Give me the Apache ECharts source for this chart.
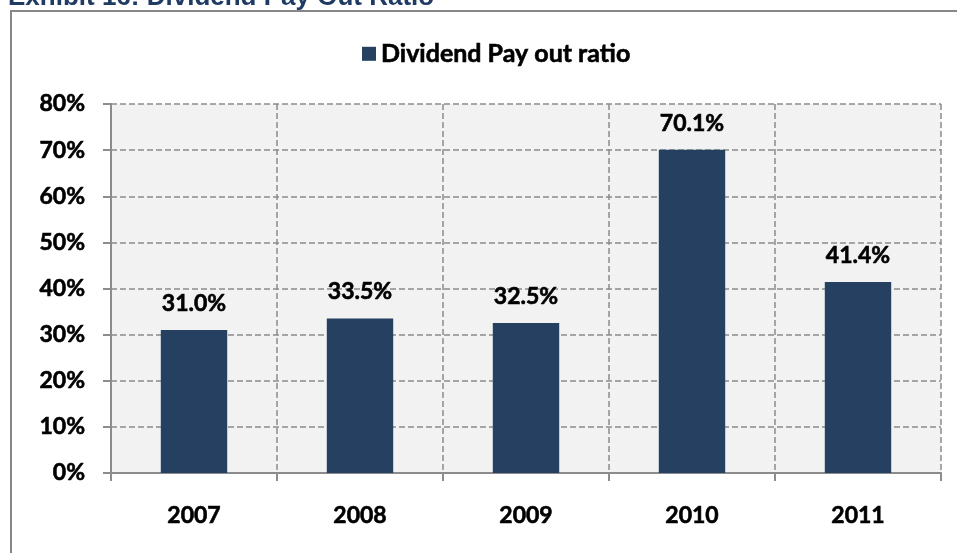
<!DOCTYPE html>
<html>
<head>
<meta charset="utf-8">
<script src="https://cdn.jsdelivr.net/npm/echarts@6/dist/echarts.min.js"></script>
<style>
  html, body { margin: 0; padding: 0; background: #fff; }
  #chart { width: 957px; height: 553px; }
</style>
</head>
<body>
<div id="chart"></div>
<script>
// Dividend pay-out ratio by fiscal year (percent)
const years = ['2007', '2008', '2009', '2010', '2011'];
const payoutRatio = [31.0, 33.5, 32.5, 70.1, 41.4];
const seriesName = 'Dividend Pay out ratio';
const chartTitle = 'Exhibit 16: Dividend Pay Out Ratio';

const FONT = 'Lato';
const navy = '#254061';
const gridGray = '#8c8c8c';
// a hairline outline thickens Lato bold a little
const heavy = { fontFamily: FONT, fontWeight: 'bold', color: '#000',
                textBorderColor: '#000', textBorderWidth: 0.6 };

const chart = echarts.init(document.getElementById('chart'), null, { renderer: 'canvas' });

chart.setOption({
  animation: false,
  backgroundColor: '#ffffff',
  graphic: [
    {
      // heading sits above the frame and runs off the top edge
      type: 'text', x: 8, y: 11, silent: true,
      style: { text: chartTitle, fill: '#1f3a63', font: 'bold 26px Arial',
               verticalAlign: 'bottom' }
    },
    {
      type: 'rect', silent: true, z: -1,
      shape: { x: 11, y: 11, width: 980, height: 600 },
      style: { fill: 'none', stroke: '#878787', lineWidth: 2 }
    }
  ],
  legend: {
    top: 36, left: 357,
    itemWidth: 14, itemHeight: 14, itemGap: 8,
    icon: 'rect',
    textStyle: Object.assign({ fontSize: 25 }, heavy),
    data: [seriesName]
  },
  grid: {
    left: 111, right: 16, top: 104, bottom: 80,
    show: true, backgroundColor: '#f2f2f2', borderWidth: 0
  },
  xAxis: {
    type: 'category',
    data: years,
    axisLine: { lineStyle: { color: gridGray, width: 2 } },
    axisTick: { show: true, length: 8, lineStyle: { color: gridGray, width: 2 } },
    axisLabel: Object.assign({ fontSize: 23, margin: 31 }, heavy),
    splitLine: { show: true, lineStyle: { color: gridGray, width: 1.5, type: [6, 3] } }
  },
  yAxis: {
    type: 'value', min: 0, max: 80, interval: 10,
    axisLine: { show: true, lineStyle: { color: gridGray, width: 2 } },
    axisTick: { show: true, length: 8, lineStyle: { color: gridGray, width: 2 } },
    axisLabel: Object.assign({ fontSize: 23, margin: 26, formatter: v => v + '%' }, heavy),
    splitLine: { show: true, lineStyle: { color: gridGray, width: 1.5, type: [6, 3] } }
  },
  series: [{
    name: seriesName,
    type: 'bar',
    barWidth: '40%',
    itemStyle: { color: navy },
    data: payoutRatio,
    label: Object.assign({
      show: true, position: 'top', distance: 15, fontSize: 23,
      formatter: p => p.value.toFixed(1) + '%'
    }, heavy)
  }]
});
</script>
</body>
</html>
